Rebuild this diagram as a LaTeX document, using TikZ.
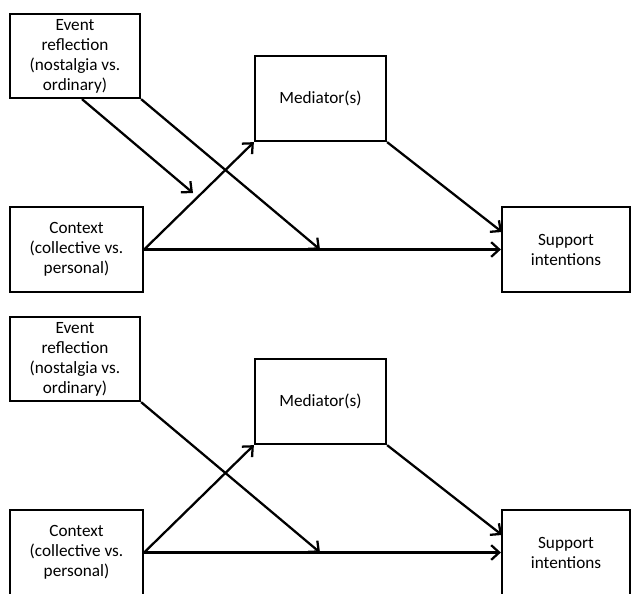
\documentclass[tikz,border=0pt]{standalone}
\usepackage{fontspec}
\setmainfont{Carlito}
\usetikzlibrary{arrows.meta}

\begin{document}
\begin{tikzpicture}[x=0.75pt,y=0.75pt,yscale=-1,xscale=1,
    box/.style={draw,line width=1.7pt,inner sep=0pt,align=center,font=\fontsize{12.9}{15}\selectfont},
    arr/.style={line width=1.7pt,-{Straight Barb[length=6pt,width=11pt,line width=1.7pt]}}]
        \clip (0,0) rectangle (631,593); %set diagram size

        %Top panel
        % Text Node
        \node[box,minimum width=97.5pt,minimum height=63pt] (ev1) at (75,56) {Event\\reflection\\(nostalgia vs.\\ordinary)};
        % Text Node
        \node[box,minimum width=98.25pt,minimum height=63.75pt] (med1) at (320.5,98.5) {Mediator(s)};
        % Text Node
        \node[box,minimum width=99.75pt,minimum height=63.75pt] (ctx1) at (76.5,249.5) {Context\\(collective vs.\\personal)};
        % Text Node
        \node[box,minimum width=96pt,minimum height=63.75pt] (sup1) at (566,249.5) {Support\\intentions};

        \coordinate (mod1) at (193,193);
        \coordinate (dir1) at (320,249.5);
        \coordinate (in1) at (502,232);

        %Straight Lines
        \draw[arr] (ev1.south -| 82,0) -- (mod1);
        \draw[arr] (ev1.south east) -- (dir1);
        \draw[arr] (ctx1.east) -- (med1.south west);
        \draw[arr] (ctx1.east) -- (sup1.west);
        \draw[arr] (med1.south east) -- (in1);

        %Bottom panel
        % Text Node
        \node[box,minimum width=97.5pt,minimum height=63pt] (ev2) at (75,359) {Event\\reflection\\(nostalgia vs.\\ordinary)};
        % Text Node
        \node[box,minimum width=98.25pt,minimum height=63.75pt] (med2) at (320.5,401.5) {Mediator(s)};
        % Text Node
        \node[box,minimum width=99.75pt,minimum height=63.75pt] (ctx2) at (76.5,552.5) {Context\\(collective vs.\\personal)};
        % Text Node
        \node[box,minimum width=96pt,minimum height=63.75pt] (sup2) at (566,552.5) {Support\\intentions};

        \coordinate (dir2) at (320,552.5);
        \coordinate (in2) at (502,535);

        %Straight Lines
        \draw[arr] (ev2.south east) -- (dir2);
        \draw[arr] (ctx2.east) -- (med2.south west);
        \draw[arr] (ctx2.east) -- (sup2.west);
        \draw[arr] (med2.south east) -- (in2);

\end{tikzpicture}
\end{document}
